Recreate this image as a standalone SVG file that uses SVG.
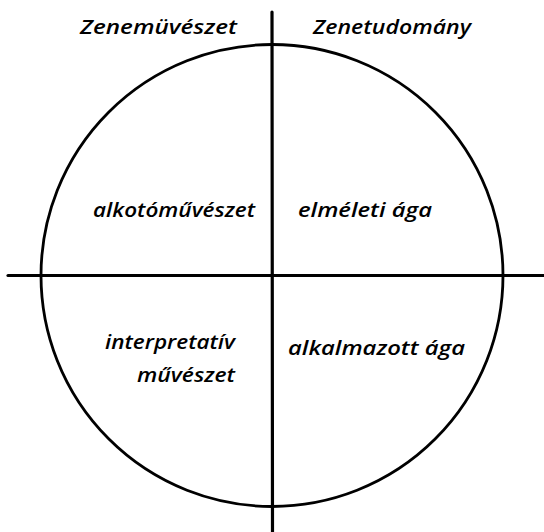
<svg xmlns="http://www.w3.org/2000/svg" width="544" height="532" viewBox="0 0 544 532">
<style>
.t{font-family:"Open Sans","Liberation Sans",sans-serif;font-style:italic;font-weight:600;font-size:19px;fill:#000}
.ln{stroke:#000;fill:none;stroke-linecap:round}
</style>
<rect width="544" height="532" fill="#fff"/>
<g id="connectors">
<circle class="ln" cx="272" cy="275.5" r="231" stroke-width="2.8"/>
<line class="ln" x1="272" y1="12" x2="272.5" y2="532" stroke-width="3.2"/>
<line class="ln" x1="8" y1="275.5" x2="544" y2="275.5" stroke-width="3.2"/>
</g>
<g id="label-zenemuveszet"><text class="t" x="80" y="34" textLength="157" lengthAdjust="spacingAndGlyphs">Zenemüvészet</text></g>
<g id="label-zenetudomany"><text class="t" x="313" y="34" textLength="158" lengthAdjust="spacingAndGlyphs">Zenetudomány</text></g>
<g id="q1"><text class="t" x="93" y="217" textLength="162" lengthAdjust="spacingAndGlyphs">alkotóművészet</text></g>
<g id="q2"><text class="t" x="298" y="217" textLength="134" lengthAdjust="spacingAndGlyphs">elméleti  ága</text></g>
<g id="q3"><text class="t" x="105" y="349" textLength="130" lengthAdjust="spacingAndGlyphs">interpretatív</text><text class="t" x="137" y="382" textLength="98" lengthAdjust="spacingAndGlyphs">művészet</text></g>
<g id="q4"><text class="t" x="288" y="355" textLength="177" lengthAdjust="spacingAndGlyphs">alkalmazott  ága</text></g>
</svg>
